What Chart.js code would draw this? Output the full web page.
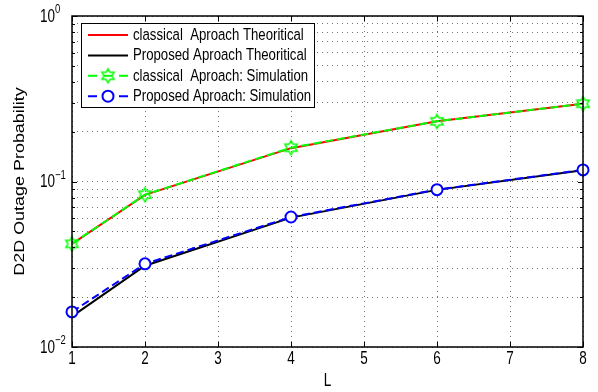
<!DOCTYPE html>
<html>
<head>
<meta charset="utf-8">
<script src="https://cdn.jsdelivr.net/npm/chart.js@4.4.0/dist/chart.umd.min.js"></script>
<style>
  html, body { margin: 0; padding: 0; background: #fff; }
</style>
</head>
<body>
<canvas id="chart" width="598" height="392"></canvas>
<script>
// values (log y axis)
const xValues = [1, 2, 4, 6, 8];
const classicalTheory = [0.0420, 0.0830, 0.1590, 0.2310, 0.2950];
const proposedTheory  = [0.0153, 0.0310, 0.0605, 0.0890, 0.1170];
const classicalSim    = [0.0420, 0.0832, 0.1600, 0.2310, 0.2950];
const proposedSim     = [0.0163, 0.0318, 0.0610, 0.0893, 0.1175];

const seriesNames = [
  'classical  Aproach Theoritical',
  'Proposed Aproach Theoritical',
  'classical  Aproach: Simulation',
  'Proposed Aproach: Simulation'
];
const xTicks = [1, 2, 3, 4, 5, 6, 7, 8];
const yTickDecades = [0.01, 0.1, 1];
const xTitle = 'L';
const yTitle = 'D2D Outage Probability';

const FONT = '"Liberation Sans", Arial, sans-serif';
// the reference figure was stretched vertically, text looks taller than wide
const STRETCH = 1.3;

// MATLAB style hexagram marker, drawn once on a small canvas
function makeHexagram(color) {
  const c = document.createElement('canvas');
  c.width = 17; c.height = 17;
  const g = c.getContext('2d');
  const R = 7, r = R / Math.sqrt(3), cx = 8.5, cy = 8.5;
  g.beginPath();
  for (let k = 0; k < 12; k++) {
    const ang = -Math.PI / 2 + k * Math.PI / 6;
    const rad = k % 2 === 0 ? R : r;
    const px = cx + rad * Math.cos(ang), py = cy + rad * Math.sin(ang);
    if (k === 0) g.moveTo(px, py); else g.lineTo(px, py);
  }
  g.closePath();
  g.strokeStyle = color;
  g.lineWidth = 1.5;
  g.stroke();
  return c;
}
const hexGreen = makeHexagram('#00ff00');

// minor log ticks 1..9 x each decade
const yTickValues = [];
yTickDecades.forEach((d, i) => {
  if (i === yTickDecades.length - 1) { yTickValues.push(d); return; }
  for (let m = 1; m <= 9; m++) yTickValues.push(+(d * m).toPrecision(3));
});

function toPoints(vals) {
  return xValues.map((x, i) => ({ x, y: vals[i] }));
}

// text helper: vertical stretch, optional rotation
function drawText(ctx, text, x, y, size, align, baseline, rotate) {
  ctx.save();
  ctx.translate(x, y);
  if (rotate) {
    ctx.rotate(-Math.PI / 2);
    ctx.scale(STRETCH, 1);
  } else {
    ctx.scale(1, STRETCH);
  }
  ctx.font = size + 'px ' + FONT;
  ctx.textAlign = align;
  ctx.textBaseline = baseline;
  ctx.fillStyle = '#000';
  ctx.fillText(text, 0, 0);
  ctx.restore();
}

// box, inward tick marks and all axis text like MATLAB
const axisDecor = {
  id: 'axisDecor',
  afterDraw(chart) {
    const { ctx, chartArea: a, scales: { x, y } } = chart;
    ctx.save();
    ctx.strokeStyle = '#000';
    ctx.lineWidth = 1;
    ctx.beginPath();
    y.ticks.forEach(t => {
      const py = Math.round(y.getPixelForValue(t.value)) + 0.5;
      const len = yTickDecades.includes(t.value) ? 5 : 3;
      ctx.moveTo(a.left, py); ctx.lineTo(a.left + len, py);
      ctx.moveTo(a.right, py); ctx.lineTo(a.right - len, py);
    });
    x.ticks.forEach(t => {
      const px = Math.round(x.getPixelForValue(t.value)) + 0.5;
      ctx.moveTo(px, a.bottom); ctx.lineTo(px, a.bottom - 5);
      ctx.moveTo(px, a.top); ctx.lineTo(px, a.top + 5);
    });
    ctx.stroke();

    ctx.lineWidth = 1.5;
    ctx.strokeRect(a.left, a.top, a.right - a.left, a.bottom - a.top);
    ctx.restore();

    // x tick labels and title
    x.ticks.forEach(t => {
      drawText(ctx, String(t.value), x.getPixelForValue(t.value), a.bottom + 12, 13.5, 'center', 'middle');
    });
    drawText(ctx, xTitle, (a.left + a.right) / 2, a.bottom + 34, 13.5, 'center', 'middle');

    // y decade labels 10^n
    yTickDecades.forEach(v => {
      const py = y.getPixelForValue(v);
      const exp = Math.round(Math.log10(v));
      drawText(ctx, '10', a.left - 17, py + 1, 13.5, 'right', 'middle');
      drawText(ctx, exp === 0 ? '0' : '\u2212' + Math.abs(exp), a.left - 17, py - 6, 9.5, 'left', 'middle');
    });
    drawText(ctx, yTitle, 20, (a.top + a.bottom) / 2, 13.8, 'center', 'middle', true);
  }
};

// legend box inside the plot, top left
const boxLegend = {
  id: 'boxLegend',
  afterDraw(chart) {
    const { ctx, chartArea: a } = chart;
    const bx = a.left + 9, by = a.top + 7, bw = 233, bh = 84;
    ctx.save();
    ctx.fillStyle = '#fff';
    ctx.fillRect(bx, by, bw, bh);
    ctx.strokeStyle = '#000';
    ctx.lineWidth = 1;
    ctx.strokeRect(bx + 0.5, by + 0.5, bw, bh);

    chart.data.datasets.forEach((ds, i) => {
      const ry = by + 12 + i * 20.4;
      const x0 = bx + 7, x1 = x0 + 40, xm = (x0 + x1) / 2;
      ctx.strokeStyle = ds.borderColor;
      ctx.lineWidth = ds.borderWidth;
      ctx.setLineDash([]);
      ctx.beginPath();
      if (ds.pointRadius) {
        ctx.moveTo(x0, ry); ctx.lineTo(x0 + 9, ry);
        ctx.moveTo(x1 - 9, ry); ctx.lineTo(x1, ry);
      } else {
        ctx.moveTo(x0, ry); ctx.lineTo(x1, ry);
      }
      ctx.stroke();
      if (ds.pointRadius) {
        if (ds.pointStyle === 'circle') {
          ctx.beginPath();
          ctx.arc(xm, ry, ds.pointRadius, 0, Math.PI * 2);
          ctx.fillStyle = ds.pointBackgroundColor;
          ctx.fill();
          ctx.lineWidth = ds.pointBorderWidth;
          ctx.strokeStyle = ds.pointBorderColor;
          ctx.stroke();
        } else {
          ctx.beginPath();
          ctx.moveTo(xm - 4, ry); ctx.lineTo(xm + 4, ry);
          ctx.stroke();
          ctx.drawImage(ds.pointStyle, xm - ds.pointStyle.width / 2, ry - ds.pointStyle.height / 2);
        }
      }
      drawText(ctx, seriesNames[i], x1 + 5, ry, 13.2, 'left', 'middle');
    });
    ctx.restore();
  }
};

new Chart(document.getElementById('chart'), {
  type: 'line',
  data: {
    datasets: [
      {
        label: seriesNames[0], data: toPoints(classicalTheory), order: 2,
        borderColor: '#ff0000', borderWidth: 2, pointRadius: 0, clip: false
      },
      {
        label: seriesNames[1], data: toPoints(proposedTheory), order: 2,
        borderColor: '#000000', borderWidth: 2, pointRadius: 0, clip: false
      },
      {
        label: seriesNames[2], data: toPoints(classicalSim), order: 1,
        borderColor: '#00ff00', borderWidth: 2, borderDash: [8, 4],
        pointStyle: hexGreen, pointRadius: 7, pointHoverRadius: 7, clip: false
      },
      {
        label: seriesNames[3], data: toPoints(proposedSim), order: 1,
        borderColor: '#0000ff', borderWidth: 2, borderDash: [8, 4],
        pointStyle: 'circle', pointRadius: 5.5, pointHoverRadius: 5.5,
        pointBorderWidth: 2, pointBorderColor: '#0000ff', pointBackgroundColor: '#ffffff',
        clip: false
      }
    ]
  },
  options: {
    responsive: false,
    animation: false,
    events: [],
    layout: { padding: { top: 16, right: 15, left: 0, bottom: 0 } },
    plugins: { legend: { display: false }, tooltip: { enabled: false } },
    scales: {
      x: {
        type: 'linear', min: 1, max: 8,
        afterBuildTicks: s => { s.ticks = xTicks.map(v => ({ value: v })); },
        afterFit: s => { s.height = 45; },
        ticks: { display: false, autoSkip: false },
        grid: { color: 'rgba(0,0,0,0.55)', lineWidth: 1, drawTicks: false },
        border: { display: false, dash: [1, 4] }
      },
      y: {
        type: 'logarithmic', min: 0.01, max: 1,
        afterBuildTicks: s => { s.ticks = yTickValues.map(v => ({ value: v })); },
        afterFit: s => { s.width = 72; },
        ticks: { display: false, autoSkip: false },
        grid: { color: 'rgba(0,0,0,0.55)', lineWidth: 1, drawTicks: false },
        border: { display: false, dash: [1, 4] }
      }
    }
  },
  plugins: [axisDecor, boxLegend]
});
</script>
</body>
</html>
